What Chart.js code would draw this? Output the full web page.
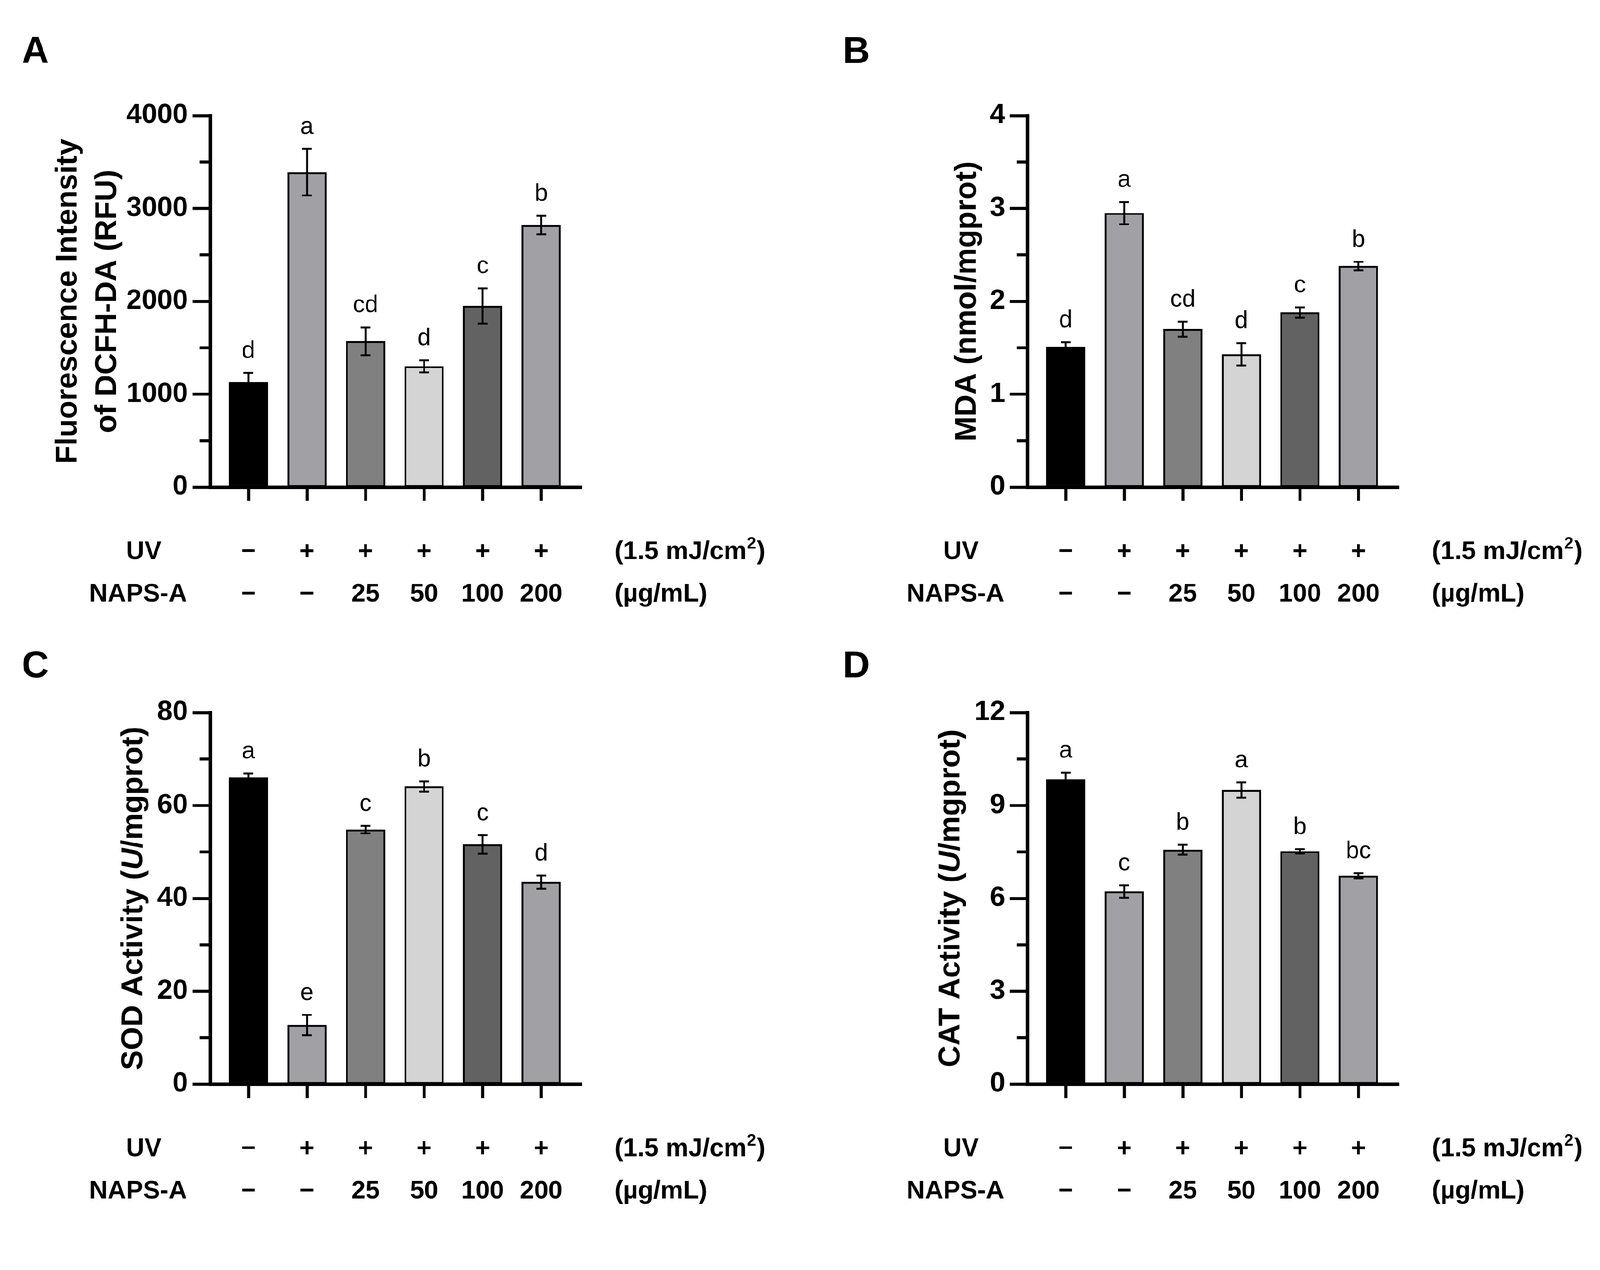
<!DOCTYPE html>
<html>
<head>
<meta charset="utf-8">
<script src="https://cdn.jsdelivr.net/npm/chart.js@4.4.1/dist/chart.umd.min.js"></script>
<style>
html, body { margin:0; padding:0; background:#fff; overflow:hidden; }
#page { position:absolute; left:0; top:0; width:4264px; height:3251px; transform-origin:0 0; }
canvas { position:absolute; }
</style>
</head>
<body>
<div id="page">
<canvas id="panelA" width="2086" height="1660" style="left:0px;top:0px"></canvas>
<canvas id="panelB" width="2086" height="1660" style="left:2178px;top:0px"></canvas>
<canvas id="panelC" width="2086" height="1660" style="left:0px;top:1591px"></canvas>
<canvas id="panelD" width="2086" height="1660" style="left:2178px;top:1591px"></canvas>
</div>
<script>
// table rows under the bars
var uvRow = ['\u2212', '+', '+', '+', '+', '+'];
var napsRow = ['\u2212', '\u2212', '25', '50', '100', '200'];

// A: DCFH-DA fluorescence
var rosMean = [1130, 3390, 1570, 1300, 1950, 2820];
var rosErr = [100, 250, 150, 65, 190, 100];
var rosSig = ['d', 'a', 'cd', 'd', 'c', 'b'];
var rosTicks = [0, 1000, 2000, 3000, 4000];

// B: MDA
var mdaMean = [1.51, 2.95, 1.70, 1.43, 1.88, 2.38];
var mdaErr = [0.05, 0.12, 0.08, 0.12, 0.055, 0.045];
var mdaSig = ['d', 'a', 'cd', 'd', 'c', 'b'];
var mdaTicks = [0, 1, 2, 3, 4];

// C: SOD
var sodMean = [66.0, 12.7, 54.8, 64.1, 51.6, 43.5];
var sodErr = [0.9, 2.2, 0.8, 1.1, 2.0, 1.4];
var sodSig = ['a', 'e', 'c', 'b', 'c', 'd'];
var sodTicks = [0, 20, 40, 60, 80];

// D: CAT
var catMean = [9.84, 6.22, 7.57, 9.50, 7.52, 6.73];
var catErr = [0.22, 0.20, 0.16, 0.25, 0.07, 0.08];
var catSig = ['a', 'c', 'b', 'a', 'b', 'bc'];
var catTicks = [0, 3, 6, 9, 12];

var barColors = ['#000000', '#a1a0a5', '#808080', '#d4d4d4', '#626262', '#a1a0a5'];
var FONT = '"Liberation Sans", Arial, Helvetica, sans-serif';

// fit the 4264 wide layout into whatever the viewport really is
var k = window.innerWidth / 4264;
document.getElementById('page').style.transform = 'scale(' + k + ')';

var panels = {
    panelA: {mean: rosMean, err: rosErr, sig: rosSig, yTicks: rosTicks, letter: 'A', letterPos: [58, 168],
        title: [[['Fluorescence Intensity', false]], [['of DCFH-DA (RFU)', false]]], titleX: [182, 287]},
    panelB: {mean: mdaMean, err: mdaErr, sig: mdaSig, yTicks: mdaTicks, letter: 'B', letterPos: [68, 168],
        title: [[['MDA (nmol/mgprot)', false]]], titleX: [400]},
    panelC: {mean: sodMean, err: sodErr, sig: sodSig, yTicks: sodTicks, letter: 'C', letterPos: [58, 214],
        title: [[['SOD Activity (', false], ['U', true], ['/mgprot)', false]]], titleX: [357]},
    panelD: {mean: catMean, err: catErr, sig: catSig, yTicks: catTicks, letter: 'D', letterPos: [68, 214],
        title: [[['CAT Activity (', false], ['U', true], ['/mgprot)', false]]], titleX: [357]}
};

function titleFont(italic) {
    return (italic ? 'italic ' : '') + 'bold 80px ' + FONT;
}

var extras = {
    id: 'extras',
    afterDraw: function(chart) {
        var p = panels[chart.canvas.id];
        var ctx = chart.ctx, xs = chart.scales.x, ys = chart.scales.y, area = chart.chartArea;
        var i, x, y;
        ctx.save();
        ctx.fillStyle = '#000';
        ctx.strokeStyle = '#000';

        // minor ticks on the y axis
        ctx.lineWidth = 8;
        for (i = 0; i < p.yTicks.length - 1; i++) {
            y = ys.getPixelForValue((p.yTicks[i] + p.yTicks[i + 1]) / 2);
            ctx.beginPath();
            ctx.moveTo(area.left - 28, y);
            ctx.lineTo(area.left, y);
            ctx.stroke();
        }

        // error bars + significance letters
        ctx.lineWidth = 5;
        ctx.textAlign = 'center';
        ctx.textBaseline = 'alphabetic';
        ctx.font = '64px ' + FONT;
        for (i = 0; i < p.mean.length; i++) {
            x = xs.getPixelForValue(i);
            var yt = ys.getPixelForValue(p.mean[i] + p.err[i]);
            var yb = ys.getPixelForValue(p.mean[i] - p.err[i]);
            ctx.beginPath();
            ctx.moveTo(x, yt); ctx.lineTo(x, yb);
            ctx.moveTo(x - 13, yt); ctx.lineTo(x + 13, yt);
            ctx.moveTo(x - 13, yb); ctx.lineTo(x + 13, yb);
            ctx.stroke();
            ctx.fillText(p.sig[i], x, yt - 40);
        }

        // treatment table
        var y1 = area.bottom + 192, y2 = area.bottom + 305;
        ctx.font = 'bold 68px ' + FONT;
        ctx.fillText('UV', 383, y1);
        ctx.fillText('NAPS-A', 368, y2);
        for (i = 0; i < uvRow.length; i++) {
            x = xs.getPixelForValue(i);
            ctx.fillText(uvRow[i], x, y1);
            ctx.fillText(napsRow[i], x, y2);
        }
        ctx.textAlign = 'left';
        var ux = area.right + 88;
        var s = '(1.5 mJ/cm';
        ctx.fillText(s, ux, y1);
        var w = ctx.measureText(s).width;
        ctx.font = 'bold 44px ' + FONT;
        ctx.fillText('2', ux + w + 1, y1 - 28);
        var w2 = ctx.measureText('2').width;
        ctx.font = 'bold 68px ' + FONT;
        ctx.fillText(')', ux + w + w2 + 3, y1);
        ctx.fillText('(\u00b5g/mL)', ux, y2);

        // y axis title (rotated, can mix italic parts)
        ctx.textBaseline = 'middle';
        var cy = (area.top + area.bottom) / 2;
        p.title.forEach(function(line, n) {
            var total = 0;
            line.forEach(function(seg) {
                ctx.font = titleFont(seg[1]);
                total += ctx.measureText(seg[0]).width;
            });
            ctx.save();
            ctx.translate(p.titleX[n], cy);
            ctx.rotate(-Math.PI / 2);
            var px = -total / 2;
            line.forEach(function(seg) {
                ctx.font = titleFont(seg[1]);
                ctx.fillText(seg[0], px, 0);
                px += ctx.measureText(seg[0]).width;
            });
            ctx.restore();
        });

        // panel letter
        ctx.textBaseline = 'alphabetic';
        ctx.font = 'bold 100px ' + FONT;
        ctx.fillText(p.letter, p.letterPos[0], p.letterPos[1]);
        ctx.restore();
    }
};

function makeChart(id) {
    var p = panels[id];
    var canvas = document.getElementById(id);
    var H = canvas.height;
    new Chart(canvas, {
        type: 'bar',
        data: {
            datasets: [{
                data: p.mean.map(function(v, i) { return {x: i, y: v}; }),
                backgroundColor: barColors,
                borderColor: '#000',
                borderWidth: 5,
                borderSkipped: false,
                barThickness: 104
            }]
        },
        options: {
            responsive: false,
            animation: false,
            layout: { padding: { left: 0, top: 308, right: canvas.width - 1550, bottom: 0 } },
            plugins: { legend: { display: false }, tooltip: { enabled: false } },
            scales: {
                x: {
                    type: 'linear',
                    offset: false,
                    min: -0.654,
                    max: p.mean.length - 1 + 0.69,
                    afterBuildTicks: function(s) {
                        s.ticks = p.mean.map(function(v, i) { return {value: i}; });
                    },
                    afterFit: function(s) { s.height = H - 1298; },
                    ticks: { display: false },
                    grid: { offset: false, drawOnChartArea: false, tickLength: 37, tickWidth: 8, tickColor: '#000' },
                    border: { width: 9, color: '#000' }
                },
                y: {
                    min: p.yTicks[0],
                    max: p.yTicks[p.yTicks.length - 1],
                    afterBuildTicks: function(s) {
                        s.ticks = p.yTicks.map(function(v) { return {value: v}; });
                    },
                    afterFit: function(s) { s.width = 560; },
                    ticks: {
                        font: { family: FONT, size: 74, weight: 'bold' },
                        color: '#000',
                        padding: 12,
                        callback: function(v) { return String(v); }
                    },
                    grid: { drawOnChartArea: false, tickLength: 47, tickWidth: 8, tickColor: '#000' },
                    border: { width: 9, color: '#000' }
                }
            }
        },
        plugins: [extras]
    });
}

makeChart('panelA');
makeChart('panelB');
makeChart('panelC');
makeChart('panelD');
</script>
</body>
</html>
